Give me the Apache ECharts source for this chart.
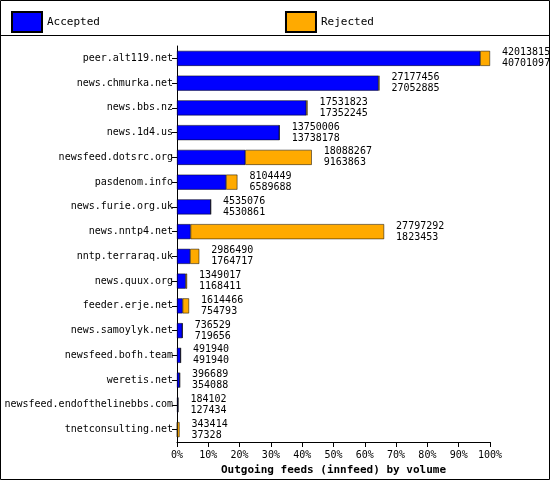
<!DOCTYPE html>
<html><head><meta charset="utf-8">
<script src="https://cdn.jsdelivr.net/npm/echarts@6/dist/echarts.min.js"></script>
<style>html,body{margin:0;padding:0;background:#fff}#c{width:550px;height:480px}</style>
</head><body><div id="c"></div>
<script>
var hosts = ['peer.alt119.net','news.chmurka.net','news.bbs.nz','news.1d4.us','newsfeed.dotsrc.org','pasdenom.info','news.furie.org.uk','news.nntp4.net','nntp.terraraq.uk','news.quux.org','feeder.erje.net','news.samoylyk.net','newsfeed.bofh.team','weretis.net','newsfeed.endofthelinebbs.com','tnetconsulting.net'];
var offered = [42013815,27177456,17531823,13750006,18088267,8104449,4535076,27797292,2986490,1349017,1614466,736529,491940,396689,184102,343414];
var accepted = [40701097,27052885,17352245,13738178,9163863,6589688,4530861,1823453,1764717,1168411,754793,719656,491940,354088,127434,37328];

var maxV = Math.max.apply(null, offered);
var accPct = accepted.map(function (v) { return v / maxV * 100; });
var rejPct = offered.map(function (v, i) { return (v - accepted[i]) / maxV * 100; });
var font = 'DejaVu Sans Mono';

var chart = echarts.init(document.getElementById('c'));
chart.setOption({
  backgroundColor: '#fff',
  animation: false,
  textStyle: { fontFamily: font },
  graphic: [
    { type: 'rect', shape: { x: 0.5, y: 0.5, width: 549, height: 479 }, style: { fill: 'none', stroke: '#000' } },
    { type: 'line', shape: { x1: 0, y1: 35.5, x2: 550, y2: 35.5 }, style: { stroke: '#000' } }
  ],
  legend: {
    left: 6, top: 6, itemGap: 185, itemWidth: 30, itemHeight: 20,
    textStyle: { fontFamily: font, fontSize: 11, color: '#000' },
    data: [{ name: 'Accepted', icon: 'rect' }, { name: 'Rejected', icon: 'rect' }]
  },
  grid: { left: 177, right: 60, top: 46, bottom: 38, outerBoundsMode: 'none', containLabel: false },
  xAxis: {
    type: 'value', min: 0, max: 100, interval: 10,
    name: 'Outgoing feeds (innfeed) by volume', nameLocation: 'middle', nameGap: 22,
    nameTextStyle: { fontFamily: font, fontSize: 11, fontWeight: 'bold', color: '#000' },
    axisLine: { show: true, lineStyle: { color: '#000' } },
    axisTick: { show: true, lineStyle: { color: '#000' } },
    axisLabel: { formatter: '{value}%', fontSize: 10, color: '#000', fontFamily: font },
    splitLine: { show: false }
  },
  yAxis: {
    type: 'category', data: hosts, inverse: true,
    axisLine: { lineStyle: { color: '#000' } },
    axisTick: { show: true, alignWithLabel: true, lineStyle: { color: '#000' } },
    axisLabel: { fontSize: 10, color: '#000', fontFamily: font, margin: 4 }
  },
  series: [
    {
      name: 'Accepted', type: 'bar', stack: 't', data: accPct, barWidth: 15,
      itemStyle: { color: '#0000ff', borderColor: '#000', borderWidth: 0.5 }
    },
    {
      name: 'Rejected', type: 'bar', stack: 't', data: rejPct, barWidth: 15,
      itemStyle: { color: '#ffaa00', borderColor: '#000', borderWidth: 0.5 },
      label: {
        show: true, position: 'right', distance: 12, color: '#000', fontSize: 10,
        fontFamily: font, lineHeight: 11,
        formatter: function (p) { return offered[p.dataIndex] + '\n' + accepted[p.dataIndex]; }
      }
    }
  ]
});
</script></body></html>
